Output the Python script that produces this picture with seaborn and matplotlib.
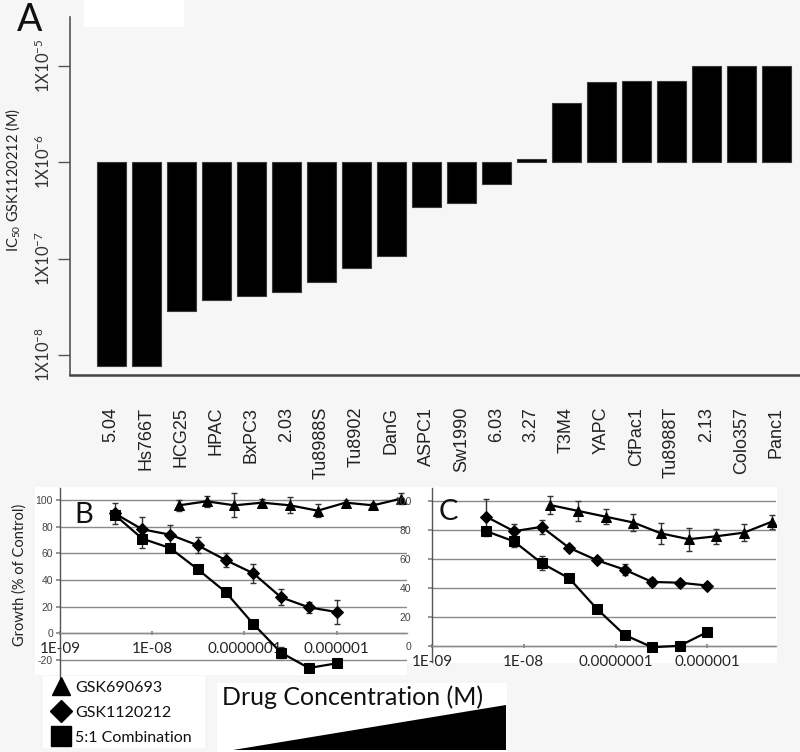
import numpy as np
import pandas as pd
import matplotlib
matplotlib.use("Agg")
import matplotlib.pyplot as plt
from matplotlib.patches import Rectangle, Polygon
from matplotlib.lines import Line2D
import seaborn as sns

# ---- data: panel A (IC50 of GSK1120212, M) ----
cell_lines = ["5.04", "Hs766T", "HCG25", "HPAC", "BxPC3", "2.03", "Tu8988S", "Tu8902",
              "DanG", "ASPC1", "Sw1990", "6.03", "3.27", "T3M4", "YAPC", "CfPac1",
              "Tu8988T", "2.13", "Colo357", "Panc1"]
ic50 = [7.7e-9, 7.7e-9, 2.85e-8, 3.7e-8, 4.1e-8, 4.5e-8, 5.75e-8, 7.9e-8,
        1.05e-7, 3.45e-7, 3.8e-7, 5.9e-7, 1.08e-6, 4.1e-6, 6.8e-6, 6.9e-6,
        6.95e-6, 1.0e-5, 1.0e-5, 1.0e-5]
ytick_labels_a = ["1X10$^{-8}$", "1X10$^{-7}$", "1X10$^{-6}$", "1X10$^{-5}$"]

# ---- data: panels B and C (growth, % of control) ----
conc_mek = [3.906e-9, 7.81e-9, 1.5625e-8, 3.125e-8, 6.25e-8, 1.25e-7, 2.5e-7, 5e-7, 1e-6]
conc_akt = [1.95e-8, 3.9e-8, 7.8e-8, 1.56e-7, 3.125e-7, 6.25e-7, 1.25e-6, 2.5e-6, 5e-6]
xtick_vals = [1e-9, 1e-8, 1e-7, 1e-6]
xtick_labels = ["1E-09", "1E-08", "0.0000001", "0.000001"]

b_akt = [96, 99, 96, 98, 96, 92, 98, 96, 101]
b_akt_err = [4, 4, 9, 3, 6, 5, 2, 2, 4]
b_mek = [90, 78, 74, 66, 55, 45, 27, 19.5, 16]
b_mek_err = [8, 9, 7, 6, 5, 7, 6, 4, 9]
b_combo = [89, 71, 64, 48, 31, 7, -14.5, -26, -22.5]
b_combo_err = [3, 7, 3, 2, 2, 2, 4, 1, 1]

c_akt = [97, 93, 89, 85, 77.5, 73.5, 75.5, 78, 85.5]
c_akt_err = [6, 7, 5, 6, 7, 8, 5, 6, 5]
c_mek = [89, 79, 82, 67.5, 59, 52.5, 44, 43.5, 41.5]
c_mek_err = [12, 5, 5, 2, 2, 4, 3, 2, 2]
c_combo = [79, 72, 57, 46.5, 25.5, 7.5, -1, 0, 9.5]
c_combo_err = [3, 4, 5, 2, 2, 2, 2, 1, 1]

legend_labels = ["GSK690693", "GSK1120212", "5:1 Combination"]

sns.set_theme(style="white")
plt.rcParams["font.family"] = ["Lato", "DejaVu Sans"]
plt.rcParams["mathtext.fontset"] = "custom"
plt.rcParams["mathtext.rm"] = "Lato"
plt.rcParams["mathtext.it"] = "Lato:italic"
plt.rcParams["mathtext.bf"] = "Lato:bold"

W, H = 800, 752
fig = plt.figure(figsize=(W / 100, H / 100), dpi=100)
bg = "#f6f6f6"
fig.patch.set_facecolor(bg)


def fx(px):
    return px / W


def fy(py):
    return 1 - py / H


# ---------------- panel A ----------------
ax_a = fig.add_axes([fx(70), fy(375), fx(730), (375 - 17) / H])
ax_a.set_facecolor("none")
df_a = pd.DataFrame({"cell": cell_lines, "rel": np.log10(ic50) + 6})
sns.barplot(data=df_a, x="cell", y="rel", order=cell_lines, color="black",
            saturation=1, width=0.84, edgecolor="#3a3a3a", linewidth=0.8, ax=ax_a)
ax_a.set_xlim(-1.18, 19.68)
ax_a.set_ylim(-2.207, 1.503)
ax_a.set_yticks([-2, -1, 0, 1])
ax_a.set_yticklabels(ytick_labels_a, rotation=90, va="center", fontsize=12, color="#333")
ax_a.set_xticks(range(len(cell_lines)))
ax_a.set_xticklabels(cell_lines, rotation=90, fontsize=13, color="#222",
                     family=["Liberation Sans", "DejaVu Sans"])
ax_a.tick_params(axis="x", length=0, pad=23)
ax_a.tick_params(axis="y", direction="out", length=9, width=1, color="#555", pad=3, left=True)
ax_a.set_xlabel("")
ax_a.set_ylabel("")
sns.despine(ax=ax_a)
ax_a.spines["left"].set_color("#555")
ax_a.spines["left"].set_linewidth(1.2)
ax_a.spines["bottom"].set_color("#444")
ax_a.spines["bottom"].set_linewidth(1.8)
fig.text(fx(13), fy(180), "IC$_{50}$ GSK1120212 (M)", rotation=90, ha="center",
         va="center", fontsize=10.5, color="#222")
fig.text(fx(30), fy(20), "A", ha="center", va="center", fontsize=27, color="#111")
fig.patches.append(Rectangle((fx(84), fy(27)), fx(100), 27 / H, transform=fig.transFigure,
                             facecolor="white", edgecolor="none", zorder=-1))


# ---------------- panels B and C ----------------
def growth_panel(ax, series, ylim, yticks, xmax, letter, ytick_pad, letter_x):
    ax.set_facecolor("none")
    ax.set_xscale("log")
    for conc, vals, err, mk, ms in series:
        ax.errorbar(conc, vals, yerr=err, fmt="none", ecolor="#333", elinewidth=1,
                    capsize=2.5, capthick=1, zorder=2)
        sns.lineplot(x=conc, y=vals, color="black", lw=1.6, marker=mk, markersize=ms,
                     markeredgecolor="black", legend=False, ax=ax, zorder=3)
    ax.set_xlim(1e-9, xmax)
    ax.set_ylim(*ylim)
    ax.set_yticks(yticks)
    ax.set_yticklabels([str(t) for t in yticks], fontsize=7.5, color="#444",
                       family=["Liberation Sans", "DejaVu Sans"])
    ax.set_xticks(xtick_vals)
    ax.set_xticklabels(xtick_labels, fontsize=7.5, color="#555",
                       family=["Liberation Sans", "DejaVu Sans"])
    ax.xaxis.set_minor_locator(matplotlib.ticker.NullLocator())
    ax.yaxis.grid(True, color="#8a8a8a", lw=1)
    ax.xaxis.grid(False)
    ax.set_axisbelow(True)
    ax.tick_params(axis="y", direction="out", length=3, color="#888", pad=ytick_pad, left=True)
    ax.tick_params(axis="x", direction="inout", length=3, color="#888", pad=5, bottom=True)
    ax.spines["top"].set_visible(False)
    ax.spines["right"].set_visible(False)
    ax.spines["left"].set_color("#555")
    ax.spines["left"].set_linewidth(1)
    ax.spines["bottom"].set_position(("data", 0))
    ax.spines["bottom"].set_color("#8a8a8a")
    ax.spines["bottom"].set_linewidth(1)
    ax.text(letter_x, 0.86, letter, transform=ax.transAxes,
            fontsize=21, ha="left", va="center", color="#111")


# white chart areas
fig.patches.append(Rectangle((fx(35), fy(675)), fx(372), (675 - 487) / H,
                             transform=fig.transFigure, facecolor="white",
                             edgecolor="none", zorder=-1))
fig.patches.append(Rectangle((fx(405), fy(663)), fx(372), (663 - 487) / H,
                             transform=fig.transFigure, facecolor="white",
                             edgecolor="none", zorder=-1))

ax_b = fig.add_axes([fx(60), fy(678), fx(347), 190 / H])
growth_panel(ax_b,
             [(conc_akt, b_akt, b_akt_err, "^", 7),
              (conc_mek, b_mek, b_mek_err, "D", 6),
              (conc_mek, b_combo, b_combo_err, "s", 7)],
             (-33.5, 109), [-20, 0, 20, 40, 60, 80, 100], 10 ** -5.236, "B", 2, 0.04)

ax_c = fig.add_axes([fx(432), fy(662), fx(344), 174 / H])
growth_panel(ax_c,
             [(conc_akt, c_akt, c_akt_err, "^", 7),
              (conc_mek, c_mek, c_mek_err, "D", 6),
              (conc_mek, c_combo, c_combo_err, "s", 7)],
             (-11.2, 108.8), [0, 20, 40, 60, 80, 100], 10 ** -5.253, "C", 12, 0.02)

fig.text(fx(20), fy(575), "Growth (% of Control)", rotation=90, ha="center", va="center",
         fontsize=10.5, color="#222")

# ---------------- legend ----------------
fig.patches.append(Rectangle((fx(43), fy(748)), fx(162), (748 - 676) / H,
                             transform=fig.transFigure, facecolor="white",
                             edgecolor="none", zorder=-1))
for label, mk, ms, py in zip(legend_labels, ["^", "D", "s"], [13, 11, 15], [686, 711, 736]):
    fig.add_artist(Line2D([fx(61)], [fy(py)], marker=mk, markersize=ms, color="black",
                          linestyle="none", transform=fig.transFigure))
    fig.text(fx(75), fy(py + 2), label, ha="left", va="center", fontsize=11.5, color="#111")

# ---------------- drug concentration wedge ----------------
fig.patches.append(Rectangle((fx(217), fy(752)), fx(290), (752 - 683) / H,
                             transform=fig.transFigure, facecolor="white",
                             edgecolor="none", zorder=-1))
fig.text(fx(222), fy(697), "Drug Concentration (M)", ha="left", va="center",
         fontsize=18, color="#111")
fig.patches.append(Polygon([(fx(233), fy(750)), (fx(506), fy(705)), (fx(506), fy(750))],
                           closed=True, transform=fig.transFigure, facecolor="black",
                           edgecolor="none", zorder=2))

fig.savefig("out.png", dpi=100, facecolor=fig.get_facecolor())
